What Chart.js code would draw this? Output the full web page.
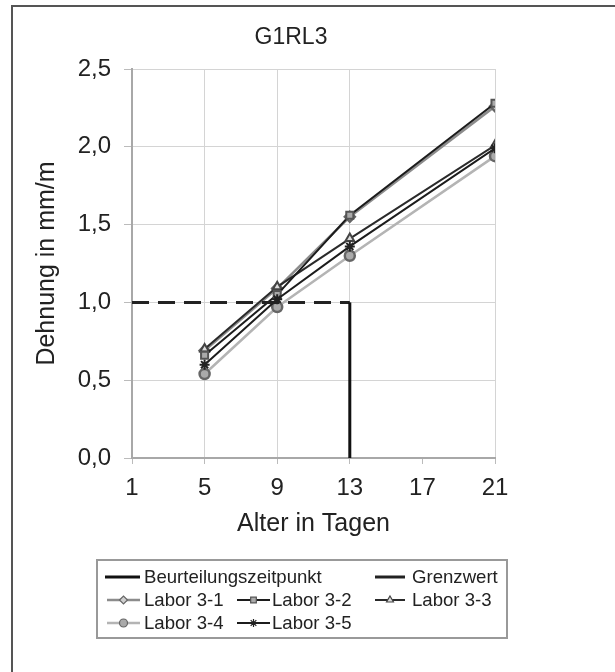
<!DOCTYPE html>
<html>
<head>
<meta charset="utf-8">
<script src="https://cdn.jsdelivr.net/npm/chart.js@4"></script>
<style>
  html, body { margin: 0; padding: 0; background: #fff; }
  #frame { position: absolute; left: 11px; top: 5px; width: 700px; height: 700px;
           border-left: 2px solid #555; border-top: 2px solid #555; }
  #wrap { position: absolute; left: 0; top: 0; width: 615px; height: 672px; }
</style>
</head>
<body>
<div id="frame"></div>
<div id="wrap"><canvas id="myChart" width="615" height="672"></canvas></div>
<script>
// data
var days = [5, 9, 13, 21];
var labor31 = [0.69, 1.09, 1.55, 2.26];
var labor32 = [0.66, 1.05, 1.56, 2.28];
var labor33 = [0.70, 1.10, 1.41, 2.01];
var labor34 = [0.54, 0.97, 1.30, 1.94];
var labor35 = [0.60, 1.02, 1.36, 1.99];
var grenzX = [1, 13];
var grenzY = [1.0, 1.0];
var beurtX = [13, 13];
var beurtY = [0, 1.0];
var xTicks = [1, 5, 9, 13, 17, 21];
var yTicks = [0, 0.5, 1.0, 1.5, 2.0, 2.5];

function pts(xs, ys) {
    return xs.map(function(x, i) { return {x: x, y: ys[i]}; });
}

var font = "'Liberation Sans', Arial, sans-serif";

// Legend drawn like the Excel one (3 columns, first entry spans two)
var legendPlugin = {
    id: 'boxLegend',
    afterDraw: function(chart) {
        var ctx = chart.ctx;
        var ds = chart.data.datasets;
        var items = [
            {i: 0, x0: 105, x1: 140, tx: 144, y: 577},
            {i: 1, x0: 375, x1: 405, tx: 412, y: 577},
            {i: 2, x0: 107, x1: 140, tx: 144, y: 600},
            {i: 3, x0: 237, x1: 270, tx: 272, y: 600},
            {i: 4, x0: 375, x1: 405, tx: 412, y: 600},
            {i: 5, x0: 107, x1: 140, tx: 144, y: 623},
            {i: 6, x0: 237, x1: 270, tx: 272, y: 623}
        ];
        ctx.save();
        ctx.strokeStyle = '#999';
        ctx.lineWidth = 2;
        ctx.strokeRect(97, 560, 410, 78);
        ctx.font = '18.6px ' + font;
        ctx.textBaseline = 'middle';
        ctx.textAlign = 'left';
        items.forEach(function(it) {
            var d = ds[it.i];
            ctx.setLineDash([]);
            ctx.strokeStyle = d.borderColor;
            ctx.lineWidth = d.borderWidth;
            ctx.beginPath();
            ctx.moveTo(it.x0, it.y);
            ctx.lineTo(it.x1, it.y);
            ctx.stroke();
            if (d.pointStyle && d.pointRadius > 0) {
                ctx.fillStyle = d.pointBackgroundColor;
                ctx.strokeStyle = d.pointBorderColor;
                ctx.lineWidth = 1.2;
                Chart.helpers.drawPoint(ctx, {pointStyle: d.pointStyle, radius: 4, borderWidth: 1.2, rotation: 0},
                    (it.x0 + it.x1) / 2, it.y);
            }
            ctx.fillStyle = '#222';
            ctx.fillText(d.label, it.tx, it.y + 1);
        });
        ctx.restore();
    }
};

window.addEventListener('load', function() {
    var ctx = document.getElementById('myChart').getContext('2d');
    var myChart = new Chart(ctx, {
        type: 'line',
        data: {
            datasets: [{
                label: 'Beurteilungszeitpunkt',
                data: pts(beurtX, beurtY),
                borderColor: '#111',
                borderWidth: 3,
                pointRadius: 0,
                order: 0
            }, {
                label: 'Grenzwert',
                data: pts(grenzX, grenzY),
                borderColor: '#222',
                borderWidth: 3,
                borderDash: [17, 9],
                pointRadius: 0,
                order: 0
            }, {
                label: 'Labor 3-1',
                data: pts(days, labor31),
                borderColor: '#8c8c8c',
                borderWidth: 2.5,
                pointStyle: 'rectRot',
                pointRadius: 5,
                pointBackgroundColor: '#cfcfcf',
                pointBorderColor: '#666',
                order: 5
            }, {
                label: 'Labor 3-2',
                data: pts(days, labor32),
                borderColor: '#1c1c1c',
                borderWidth: 2,
                pointStyle: 'rect',
                pointRadius: 5,
                pointBackgroundColor: '#aaa',
                pointBorderColor: '#555',
                order: 2
            }, {
                label: 'Labor 3-3',
                data: pts(days, labor33),
                borderColor: '#2a2a2a',
                borderWidth: 2,
                pointStyle: 'triangle',
                pointRadius: 5,
                pointBackgroundColor: '#ddd',
                pointBorderColor: '#444',
                order: 3
            }, {
                label: 'Labor 3-4',
                data: pts(days, labor34),
                borderColor: '#b4b4b4',
                borderWidth: 2.5,
                pointStyle: 'circle',
                pointRadius: 5,
                pointBackgroundColor: '#aaa',
                pointBorderColor: '#666',
                order: 6
            }, {
                label: 'Labor 3-5',
                data: pts(days, labor35),
                borderColor: '#1c1c1c',
                borderWidth: 2,
                pointStyle: 'star',
                pointRadius: 5,
                pointBackgroundColor: '#222',
                pointBorderColor: '#222',
                order: 1
            }]
        },
        options: {
            responsive: false,
            animation: false,
            layout: { padding: { left: 0, right: 33, top: 0, bottom: 124 } },
            plugins: {
                legend: { display: false },
                tooltip: { enabled: false },
                title: {
                    display: true,
                    text: 'G1RL3',
                    color: '#222',
                    font: { family: font, size: 23, weight: 'normal' },
                    padding: { top: 23.7, bottom: 17.7 }
                }
            },
            scales: {
                x: {
                    type: 'linear',
                    min: 1,
                    max: 21,
                    afterFit: function(scale) { scale.height = 90; },
                    afterBuildTicks: function(scale) {
                        scale.ticks = xTicks.map(function(v) { return {value: v}; });
                    },
                    ticks: { color: '#222', padding: 10, font: { family: font, size: 24 } },
                    grid: {
                        color: function(c) { return c.tick && c.tick.value === 17 ? 'rgba(0,0,0,0)' : '#d4d4d4'; },
                        tickColor: '#bbb',
                        tickLength: 6,
                        lineWidth: 1
                    },
                    border: { color: '#a8a8a8', width: 2 },
                    title: {
                        display: true,
                        text: 'Alter in Tagen',
                        color: '#222',
                        font: { family: font, size: 25 },
                        padding: { top: 4, bottom: 9 }
                    }
                },
                y: {
                    min: 0,
                    max: 2.5,
                    afterFit: function(scale) { scale.width = 132; },
                    afterBuildTicks: function(scale) {
                        scale.ticks = yTicks.map(function(v) { return {value: v}; });
                    },
                    ticks: {
                        color: '#222',
                        padding: 13,
                        font: { family: font, size: 24 },
                        callback: function(v) { return v.toFixed(1).replace('.', ','); }
                    },
                    grid: { color: '#d4d4d4', tickColor: '#bbb', tickLength: 8, lineWidth: 1 },
                    border: { color: '#a8a8a8', width: 2 },
                    title: {
                        display: true,
                        text: 'Dehnung in mm/m',
                        color: '#222',
                        font: { family: font, size: 25 },
                        padding: { top: 32, bottom: 0 }
                    }
                },
                yRight: {
                    position: 'right',
                    display: true,
                    afterFit: function(scale) { scale.width = 87; },
                    ticks: { display: false },
                    grid: { display: false },
                    border: { display: false }
                }
            }
        },
        plugins: [legendPlugin]
    });
});
</script>
</body>
</html>
